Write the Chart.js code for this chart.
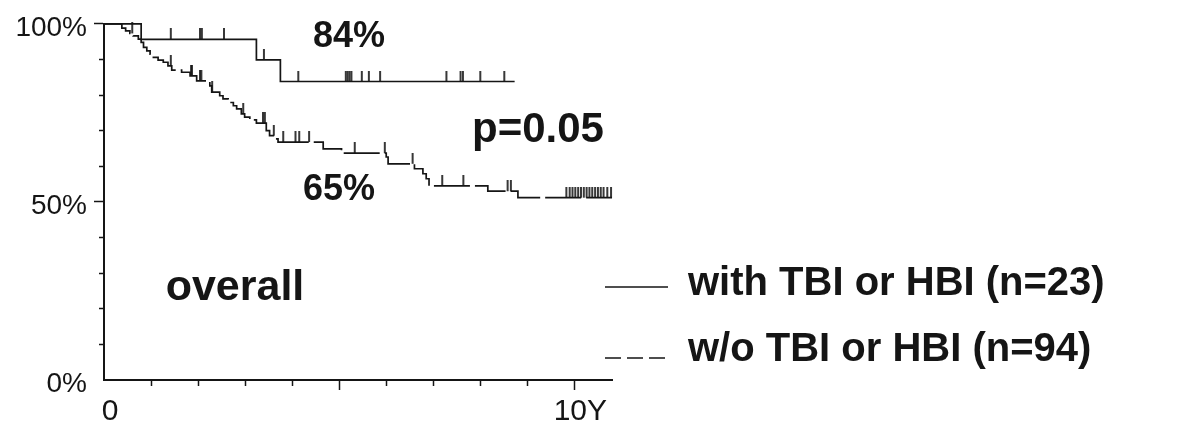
<!DOCTYPE html>
<html>
<head>
<meta charset="utf-8">
<title>Overall survival with / without TBI or HBI</title>
<script src="https://cdn.jsdelivr.net/npm/chart.js@4.4.1/dist/chart.umd.min.js"></script>
<style>
  html, body { margin: 0; padding: 0; background: #fff; }
  #wrap { position: relative; width: 1177px; height: 434px; }
</style>
</head>
<body>
<div id="wrap"><canvas id="km-chart"></canvas></div>
<script>
// Kaplan-Meier steps (time in years, survival in %)
const withTimes = [0, 0.79, 3.24, 3.75, 8.73];
const withSurv = [100, 95.6, 89.9, 83.8, 83.8];
const withCensored = [1.42, 2.04, 2.08, 2.55, 3.40, 4.13, 5.14, 5.18, 5.22, 5.26,
    5.48, 5.63, 5.87, 7.28, 7.58, 7.63, 8.00, 8.51];

const woTimes = [0, 0.38, 0.46, 0.55, 0.62, 0.73, 0.79, 0.84, 0.91, 0.98, 1.05, 1.15,
    1.26, 1.36, 1.44, 1.65, 1.83, 1.97, 2.25, 2.29, 2.46, 2.53, 2.64, 2.75, 2.82, 2.92,
    2.99, 3.10, 3.24, 3.45, 3.52, 3.63, 3.70, 4.66, 5.05, 6.00, 6.04, 6.60, 6.78, 6.85,
    6.91, 8.16, 8.80, 10.8];
const woSurv = [100, 98.8, 98.0, 97.3, 96.6, 95.7, 94.8, 93.4, 92.4, 91.5, 90.6, 89.8,
    89.2, 88.2, 87.0, 86.4, 85.4, 84.0, 82.6, 80.8, 79.8, 78.9, 77.9, 77.0, 76.1, 74.7,
    73.8, 73.0, 72.1, 70.0, 68.6, 67.7, 66.8, 64.9, 63.7, 62.6, 60.7, 59.3, 57.9, 56.5,
    54.5, 53.0, 51.2, 51.2];
const woCensored = [0.60, 1.42, 1.85, 1.87, 2.04, 2.07, 2.30, 2.96, 3.38, 3.42, 3.61,
    3.81, 4.07, 4.15, 4.36, 5.33, 5.97, 6.56, 7.19, 7.64, 8.58, 8.65,
    9.83, 9.90, 9.96, 10.02, 10.08, 10.14, 10.20, 10.26, 10.32, 10.38, 10.44, 10.50,
    10.56, 10.62, 10.70, 10.78];

const seriesLabels = ['with TBI or HBI (n=23)', 'w/o TBI or HBI (n=94)'];
const yTickLabels = { 0: '0%', 50: '50%', 100: '100%' };
const xTickLabels = { 0: '0', 10: '10Y' };

const INK = '#151515';
const FONT = '"Liberation Sans", Arial, Helvetica, sans-serif';

// survival level of a step curve at time t
function survivalAt(times, surv, t) {
    let s = surv[0];
    for (let i = 0; i < times.length; i++) {
        if (times[i] <= t) s = surv[i];
    }
    return s;
}

function toPoints(times, surv) {
    return times.map((t, i) => ({ x: t, y: surv[i] }));
}

// small vertical tick standing on the curve (upper half of the image only)
function makeCensorMark(h) {
    const c = document.createElement('canvas');
    c.width = 4;
    c.height = h * 2;
    const g = c.getContext('2d');
    g.strokeStyle = INK;
    g.lineWidth = 1.7;
    g.beginPath();
    g.moveTo(2, 0);
    g.lineTo(2, h);
    g.stroke();
    return c;
}
const censorMark = makeCensorMark(11);

// Free text + legend drawn on top of the plot
const kmText = {
    id: 'kmText',
    afterDraw(chart) {
        const ctx = chart.ctx;
        ctx.save();
        ctx.fillStyle = INK;
        ctx.strokeStyle = INK;
        ctx.textBaseline = 'alphabetic';
        ctx.textAlign = 'center';

        ctx.font = `bold 36px ${FONT}`;
        ctx.fillText('84%', 349, 47);
        ctx.fillText('65%', 339, 200);

        ctx.font = `bold 42px ${FONT}`;
        ctx.fillText('p=0.05', 538, 142);

        ctx.font = `bold 43px ${FONT}`;
        ctx.fillText('overall', 235, 300);

        // legend
        ctx.textAlign = 'left';
        ctx.font = `bold 40px ${FONT}`;
        ctx.lineWidth = 1.7;
        const rows = [
            { lineY: 287, textY: 295, dash: [] },
            { lineY: 358, textY: 361, dash: [16, 6] }
        ];
        rows.forEach((row, i) => {
            ctx.setLineDash(row.dash);
            ctx.beginPath();
            ctx.moveTo(605, row.lineY);
            ctx.lineTo(668, row.lineY);
            ctx.stroke();
            ctx.fillText(seriesLabels[i], 688, row.textY);
        });
        ctx.restore();
    }
};

const ctx = document.getElementById('km-chart').getContext('2d');
const chart = new Chart(ctx, {
    type: 'scatter',
    data: {
        datasets: [
            {
                label: seriesLabels[0],
                data: toPoints(withTimes, withSurv),
                showLine: true,
                stepped: true,
                borderColor: INK,
                borderWidth: 1.7,
                pointRadius: 0,
                clip: false
            },
            {
                label: seriesLabels[1],
                data: toPoints(woTimes, woSurv),
                showLine: true,
                stepped: true,
                borderColor: INK,
                borderWidth: 1.7,
                borderDash: [36, 5],
                pointRadius: 0,
                clip: false
            },
            {
                label: 'censored (with)',
                data: withCensored.map(t => ({ x: t, y: survivalAt(withTimes, withSurv, t) })),
                pointStyle: censorMark,
                pointRadius: 5,
                clip: false
            },
            {
                label: 'censored (w/o)',
                data: woCensored.map(t => ({ x: t, y: survivalAt(woTimes, woSurv, t) })),
                pointStyle: censorMark,
                pointRadius: 5,
                clip: false
            }
        ]
    },
    options: {
        responsive: true,
        maintainAspectRatio: false,
        animation: false,
        events: [],
        layout: { padding: { top: 23, right: 565, bottom: 0, left: 0 } },
        plugins: {
            legend: { display: false },
            tooltip: { enabled: false }
        },
        scales: {
            x: {
                type: 'linear',
                min: 0,
                max: 10.8,
                border: { display: true, color: INK, width: 2 },
                grid: {
                    drawOnChartArea: false,
                    tickLength: 10,
                    tickWidth: 1.5,
                    tickColor: c => (c.tick && c.tick.value === 0) ? 'rgba(0,0,0,0)' : INK,
                    tickBorderDash: c => (c.tick && c.tick.value % 5 === 0) ? [] : [5, 20]
                },
                ticks: {
                    stepSize: 1,
                    includeBounds: false,
                    autoSkip: false,
                    maxRotation: 0,
                    padding: 4,
                    labelOffset: 6,
                    color: INK,
                    font: { family: FONT, size: 30 },
                    callback: v => xTickLabels[v] ?? ''
                },
                afterFit: s => { s.height = 54; }
            },
            y: {
                min: 0,
                max: 100,
                border: { display: true, color: INK, width: 2 },
                grid: {
                    drawOnChartArea: false,
                    tickLength: 10,
                    tickWidth: 1.5,
                    tickColor: c => (c.tick && c.tick.value === 0) ? 'rgba(0,0,0,0)' : INK,
                    tickBorderDash: c => (c.tick && c.tick.value % 50 === 0) ? [] : [0, 5, 20, 0]
                },
                ticks: {
                    stepSize: 10,
                    autoSkip: false,
                    padding: 7,
                    labelOffset: 4,
                    color: INK,
                    font: { family: FONT, size: 28 },
                    callback: v => yTickLabels[v] ?? ''
                },
                afterFit: s => { s.width = 104; }
            }
        }
    },
    plugins: [kmText]
});
</script>
</body>
</html>
